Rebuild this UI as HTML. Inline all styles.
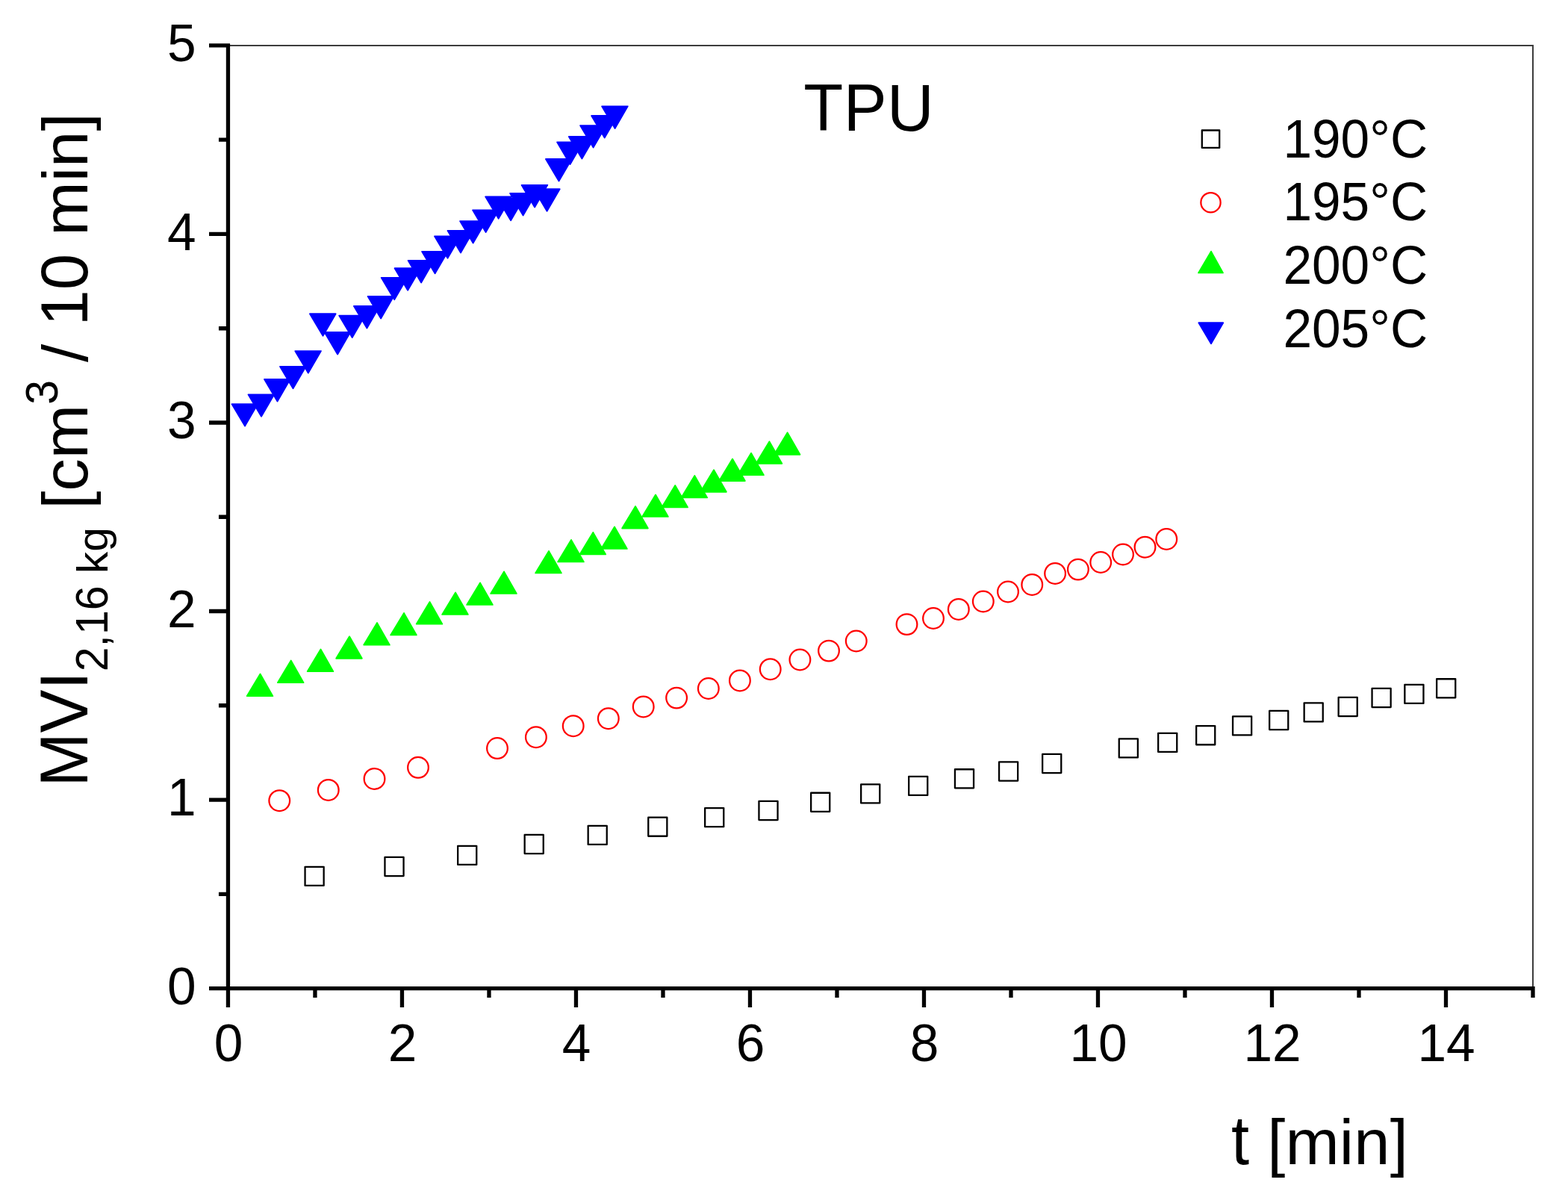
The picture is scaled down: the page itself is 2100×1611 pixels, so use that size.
<!DOCTYPE html>
<html lang="en"><head><meta charset="utf-8"><title>TPU MVI vs t</title>
<style>html,body{margin:0;padding:0;background:#fff;overflow:hidden}svg{display:block}text{font-family:"Liberation Sans",sans-serif;fill:#000;white-space:pre;font-kerning:none}</style></head><body>
<svg width="2100" height="1611" viewBox="0 0 2100 1611">
<rect width="2100" height="1611" fill="#fff"/>
<g fill="none" stroke="#3d3d3d" stroke-width="2">
<path d="M305.45 61 H2053 V1323.55"/>
</g>
<g fill="none" stroke="#000" stroke-width="5.3">
<path d="M305.45 58.3 V1349 M280 1323.55 H2055.65 M292.95 1197.29 H305.45 M280 1071.03 H305.45 M292.95 944.77 H305.45 M280 818.51 H305.45 M292.95 692.25 H305.45 M280 565.99 H305.45 M292.95 439.73 H305.45 M280 313.47 H305.45 M292.95 187.21 H305.45 M280 60.95 H305.45 M421.95 1323.55 V1336.05 M538.46 1323.55 V1349 M654.96 1323.55 V1336.05 M771.46 1323.55 V1349 M887.97 1323.55 V1336.05 M1004.47 1323.55 V1349 M1120.97 1323.55 V1336.05 M1237.48 1323.55 V1349 M1353.98 1323.55 V1336.05 M1470.48 1323.55 V1349 M1586.99 1323.55 V1336.05 M1703.49 1323.55 V1349 M1819.99 1323.55 V1336.05 M1936.5 1323.55 V1349 M2053 1323.55 V1336.05"/>
</g>
<g>
<text transform="translate(243.3 1344.75) scale(1 1.026)" font-size="69.4" text-anchor="middle">0</text>
<text transform="translate(243.3 1092.23) scale(1 1.026)" font-size="69.4" text-anchor="middle">1</text>
<text transform="translate(243.3 839.71) scale(1 1.026)" font-size="69.4" text-anchor="middle">2</text>
<text transform="translate(243.3 587.19) scale(1 1.026)" font-size="69.4" text-anchor="middle">3</text>
<text transform="translate(243.3 334.67) scale(1 1.026)" font-size="69.4" text-anchor="middle">4</text>
<text transform="translate(243.3 82.15) scale(1 1.026)" font-size="69.4" text-anchor="middle">5</text>
<text transform="translate(306.05 1421.3) scale(1 1.026)" font-size="69.4" text-anchor="middle">0</text>
<text transform="translate(539.06 1421.3) scale(1 1.026)" font-size="69.4" text-anchor="middle">2</text>
<text transform="translate(772.06 1421.3) scale(1 1.026)" font-size="69.4" text-anchor="middle">4</text>
<text transform="translate(1005.07 1421.3) scale(1 1.026)" font-size="69.4" text-anchor="middle">6</text>
<text transform="translate(1238.08 1421.3) scale(1 1.026)" font-size="69.4" text-anchor="middle">8</text>
<text transform="translate(1471.08 1421.3) scale(1 1.026)" font-size="69.4" text-anchor="middle">10</text>
<text transform="translate(1704.09 1421.3) scale(1 1.026)" font-size="69.4" text-anchor="middle">12</text>
<text transform="translate(1937.1 1421.3) scale(1 1.026)" font-size="69.4" text-anchor="middle">14</text>
</g>
<g>
<text xml:space="preserve" transform="translate(1649 1558.9) scale(1 1.075)" font-size="86.7">t </text>
<text xml:space="preserve" transform="translate(1697.18 1558.9) scale(1 0.982)" font-size="86.7" letter-spacing="0.18">[min]</text>
</g>
<text transform="translate(1076.3 174.9) scale(1 1.028)" font-size="86.7" text-anchor="start" letter-spacing="0.45">TPU</text>
<g>
<text xml:space="preserve" transform="translate(117.1 1053.8) rotate(-90) translate(0 0) scale(1 1.04)" font-size="86.95">MVI</text>
<text xml:space="preserve" transform="translate(117.1 1053.8) rotate(-90) translate(154.58 26.8) scale(1 1.026)" font-size="58.9">2,16 </text>
<text xml:space="preserve" transform="translate(117.1 1053.8) rotate(-90) translate(285.58 26.8) scale(1 0.982)" font-size="58.9">kg</text>
<text xml:space="preserve" transform="translate(117.1 1053.8) rotate(-90) translate(347.79 0) scale(1 0.982)" font-size="86.95"> [cm</text>
<text xml:space="preserve" transform="translate(117.1 1053.8) rotate(-90) translate(512.01 -40.5) scale(1 1.026)" font-size="58.9">3</text>
<text xml:space="preserve" transform="translate(117.1 1053.8) rotate(-90) translate(544.77 0) scale(1 0.982)" font-size="86.95"> / </text>
<text xml:space="preserve" transform="translate(117.1 1053.8) rotate(-90) translate(617.24 0) scale(1 1.026)" font-size="86.95">10 </text>
<text xml:space="preserve" transform="translate(117.1 1053.8) rotate(-90) translate(738.11 0) scale(1 0.982)" font-size="86.95">min]</text>
</g>
<g fill="none" stroke="#000" stroke-width="2.3" stroke-linejoin="round">
<rect x="408.55" y="1160.85" width="25.1" height="25.1"/>
<rect x="515.45" y="1147.95" width="25.1" height="25.1"/>
<rect x="613.15" y="1132.85" width="25.1" height="25.1"/>
<rect x="702.65" y="1117.95" width="25.1" height="25.1"/>
<rect x="787.65" y="1105.85" width="25.1" height="25.1"/>
<rect x="868.25" y="1094.65" width="25.1" height="25.1"/>
<rect x="944.15" y="1082.05" width="25.1" height="25.1"/>
<rect x="1016.45" y="1072.95" width="25.1" height="25.1"/>
<rect x="1086.15" y="1061.75" width="25.1" height="25.1"/>
<rect x="1153.15" y="1050.35" width="25.1" height="25.1"/>
<rect x="1217.15" y="1039.85" width="25.1" height="25.1"/>
<rect x="1278.95" y="1030.25" width="25.1" height="25.1"/>
<rect x="1338.05" y="1020.45" width="25.1" height="25.1"/>
<rect x="1396.15" y="1009.95" width="25.1" height="25.1"/>
<rect x="1498.75" y="989.35" width="25.1" height="25.1"/>
<rect x="1551.15" y="981.85" width="25.1" height="25.1"/>
<rect x="1602.15" y="972.15" width="25.1" height="25.1"/>
<rect x="1651.05" y="959.35" width="25.1" height="25.1"/>
<rect x="1700.15" y="951.95" width="25.1" height="25.1"/>
<rect x="1746.65" y="941.35" width="25.1" height="25.1"/>
<rect x="1792.65" y="933.95" width="25.1" height="25.1"/>
<rect x="1837.55" y="921.95" width="25.1" height="25.1"/>
<rect x="1881.35" y="916.8" width="25.1" height="25.1"/>
<rect x="1924.15" y="909.25" width="25.1" height="25.1"/>
<rect x="1609.8" y="174.5" width="23.4" height="23.4"/>
</g>
<g fill="none" stroke="#f00" stroke-width="2.25">
<circle cx="374.25" cy="1072.2" r="13.85"/>
<circle cx="439.75" cy="1057.9" r="13.85"/>
<circle cx="501.5" cy="1042.9" r="13.85"/>
<circle cx="560" cy="1027.8" r="13.85"/>
<circle cx="666" cy="1002.05" r="13.85"/>
<circle cx="717.9" cy="987.2" r="13.85"/>
<circle cx="767.7" cy="972.2" r="13.85"/>
<circle cx="814.8" cy="962.2" r="13.85"/>
<circle cx="861.7" cy="946.45" r="13.85"/>
<circle cx="906.1" cy="934.6" r="13.85"/>
<circle cx="948.8" cy="922" r="13.85"/>
<circle cx="990.9" cy="911.4" r="13.85"/>
<circle cx="1031.7" cy="896.2" r="13.85"/>
<circle cx="1071.4" cy="883.5" r="13.85"/>
<circle cx="1110" cy="871.6" r="13.85"/>
<circle cx="1146.75" cy="858.5" r="13.85"/>
<circle cx="1214.5" cy="836.1" r="13.85"/>
<circle cx="1250" cy="828" r="13.85"/>
<circle cx="1283.8" cy="815.9" r="13.85"/>
<circle cx="1316.8" cy="805.5" r="13.85"/>
<circle cx="1350" cy="792.5" r="13.85"/>
<circle cx="1382.25" cy="782.9" r="13.85"/>
<circle cx="1413.1" cy="767.95" r="13.85"/>
<circle cx="1443.9" cy="762.6" r="13.85"/>
<circle cx="1474.2" cy="753" r="13.85"/>
<circle cx="1504" cy="742.5" r="13.85"/>
<circle cx="1533.5" cy="732.7" r="13.85"/>
<circle cx="1562.25" cy="721.9" r="13.85"/>
<circle cx="1621.5" cy="271.2" r="13.15"/>
</g>
<g fill="#0f0" stroke="#0f0" stroke-width="1.8" stroke-linejoin="round">
<path d="M348.5 902.55 L365.35 932.1 H330.65Z"/>
<path d="M389.7 884.55 L406.55 914.1 H371.85Z"/>
<path d="M429.5 869.55 L446.35 899.1 H411.65Z"/>
<path d="M468 852.25 L484.85 881.8 H450.15Z"/>
<path d="M505 834.05 L521.85 863.6 H487.15Z"/>
<path d="M541 820.85 L557.85 850.4 H523.15Z"/>
<path d="M575.5 806.05 L592.35 835.6 H557.65Z"/>
<path d="M610 793.35 L626.85 822.9 H592.15Z"/>
<path d="M643 780.35 L659.85 809.9 H625.15Z"/>
<path d="M675 765.35 L691.85 794.9 H657.15Z"/>
<path d="M735 737.85 L751.85 767.4 H717.15Z"/>
<path d="M765 722.85 L781.85 752.4 H747.15Z"/>
<path d="M794.3 712.85 L811.15 742.4 H776.45Z"/>
<path d="M823 705.35 L839.85 734.9 H805.15Z"/>
<path d="M851 677.95 L867.85 707.5 H833.15Z"/>
<path d="M878 662.4 L894.85 691.95 H860.15Z"/>
<path d="M904.2 649.9 L921.05 679.45 H886.35Z"/>
<path d="M930.3 636.85 L947.15 666.4 H912.45Z"/>
<path d="M956 629.25 L972.85 658.8 H938.15Z"/>
<path d="M981 614.45 L997.85 644 H963.15Z"/>
<path d="M1006 606.65 L1022.85 636.2 H988.15Z"/>
<path d="M1030.4 591.25 L1047.25 620.8 H1012.55Z"/>
<path d="M1054.6 579.25 L1071.45 608.8 H1036.75Z"/>
<path d="M1622 336.62 L1637.94 365.4 H1605.06Z"/>
</g>
<g fill="#00f" stroke="#00f" stroke-width="1.8" stroke-linejoin="round">
<path d="M328 570.65 L345.15 541.1 H310.45Z"/>
<path d="M350 557.85 L367.15 528.3 H332.45Z"/>
<path d="M371.5 537.45 L388.65 507.9 H353.95Z"/>
<path d="M392.5 520.35 L409.65 490.8 H374.95Z"/>
<path d="M412.8 499.65 L429.95 470.1 H395.25Z"/>
<path d="M432.5 449.75 L449.65 420.2 H414.95Z"/>
<path d="M452.1 474.45 L469.25 444.9 H434.55Z"/>
<path d="M471.7 452.15 L488.85 422.6 H454.15Z"/>
<path d="M491.4 439.45 L508.55 409.9 H473.85Z"/>
<path d="M510.1 426.45 L527.25 396.9 H492.55Z"/>
<path d="M528.2 401.35 L545.35 371.8 H510.65Z"/>
<path d="M546.1 388.75 L563.25 359.2 H528.55Z"/>
<path d="M564.1 378.45 L581.25 348.9 H546.55Z"/>
<path d="M582.6 366.35 L599.75 336.8 H565.05Z"/>
<path d="M599.5 345.85 L616.65 316.3 H581.95Z"/>
<path d="M617 338.45 L634.15 308.9 H599.45Z"/>
<path d="M633.6 325.65 L650.75 296.1 H616.05Z"/>
<path d="M650.6 310.95 L667.75 281.4 H633.05Z"/>
<path d="M667.65 292.9 L684.8 263.35 H650.1Z"/>
<path d="M684.1 295.25 L701.25 265.7 H666.55Z"/>
<path d="M700.6 288.45 L717.75 258.9 H683.05Z"/>
<path d="M716.1 277.45 L733.25 247.9 H698.55Z"/>
<path d="M732.55 282.75 L749.7 253.2 H715Z"/>
<path d="M748.5 242.55 L765.65 213 H730.95Z"/>
<path d="M763.6 219.95 L780.75 190.4 H746.05Z"/>
<path d="M779.4 212.55 L796.55 183 H761.85Z"/>
<path d="M794.6 197.65 L811.75 168.1 H777.05Z"/>
<path d="M809.7 184.55 L826.85 155 H792.15Z"/>
<path d="M823.6 171.95 L840.75 142.4 H806.05Z"/>
<path d="M1622 460.18 L1638.24 432.2 H1605.36Z"/>
</g>
<g>
<text transform="translate(1718.4 210.6) scale(1 1.03)" font-size="69.4" text-anchor="start">190°C</text>
<text transform="translate(1718.4 295.4) scale(1 1.03)" font-size="69.4" text-anchor="start">195°C</text>
<text transform="translate(1718.4 380.1) scale(1 1.03)" font-size="69.4" text-anchor="start">200°C</text>
<text transform="translate(1718.4 464.8) scale(1 1.03)" font-size="69.4" text-anchor="start">205°C</text>
</g>
</svg></body></html>
